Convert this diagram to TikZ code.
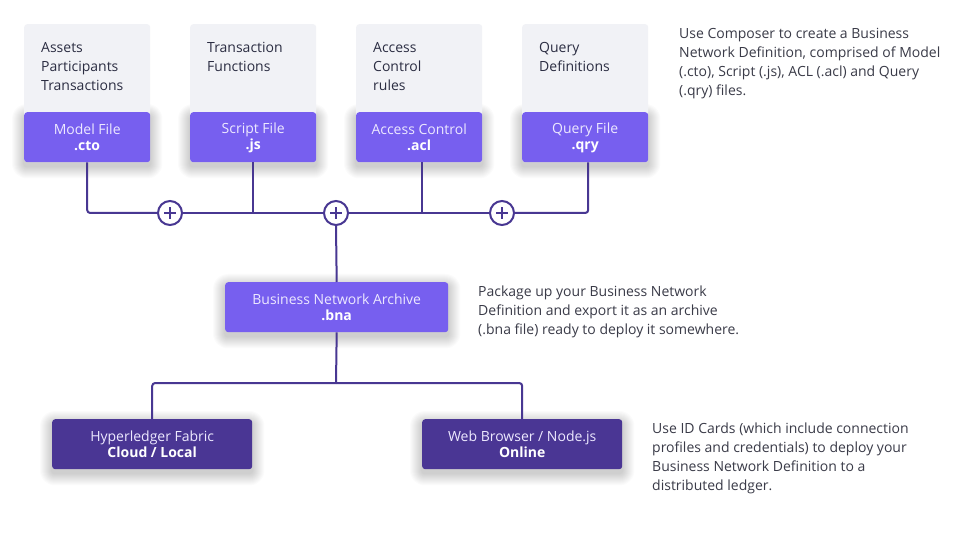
\documentclass[tikz,border=0pt]{standalone}
\usepackage{fontspec}
\setmainfont{Open Sans}
\usetikzlibrary{backgrounds}
\definecolor{lightpurple}{HTML}{775FEF}
\definecolor{darkpurple}{HTML}{4A3694}
\definecolor{linecol}{HTML}{483792}
\definecolor{greybox}{HTML}{F1F2F6}
\definecolor{greytext}{HTML}{2B2D42}
\definecolor{desctext}{HTML}{3A3B48}
\definecolor{lavender}{HTML}{EDE9FF}
\tikzset{
  x=1pt, y=-1pt,
  greycard/.style={fill=greybox, rounded corners=3pt, minimum width=126pt, minimum height=138pt, anchor=north west, inner sep=0pt},
  greylabel/.style={anchor=north west, align=left, inner sep=0pt, text=greytext, font=\fontsize{14}{19}\selectfont},
  filebox/.style={fill=lightpurple, rounded corners=3pt, minimum width=126pt, minimum height=50pt, anchor=north west, inner sep=0pt, align=center, text=lavender, font=\fontsize{14}{16}\selectfont},
  bnabox/.style={filebox, minimum width=223pt},
  envbox/.style={filebox, fill=darkpurple, minimum width=200pt},
  desc/.style={anchor=north west, align=left, inner sep=0pt, text=desctext, font=\fontsize{14}{19}\selectfont},
  conn/.style={draw=linecol, line width=2pt, rounded corners=3pt},
  plus/.style={circle, draw=linecol, line width=2pt, fill=white, minimum size=24pt, inner sep=0pt},
}
\newcommand{\plussign}[1]{\draw[linecol, line width=1.6pt] ([xshift=-6pt]#1.center) -- ([xshift=6pt]#1.center) ([yshift=-6pt]#1.center) -- ([yshift=6pt]#1.center);}
\newcommand{\softshadow}[1]{%
  \begin{pgfonlayer}{background}
  \foreach \r [evaluate=\r as \rc using \r+3] in {1,...,12} {
    \fill[black, opacity=0.014, rounded corners=\rc pt]
      ([shift={(-\r pt,\r pt-4pt)}]#1.north west) rectangle ([shift={(\r pt,-\r pt-4pt)}]#1.south east);
  }
  \end{pgfonlayer}}
\newcommand{\mystrut}{\rule[-2pt]{0pt}{14pt}}
\newcommand{\twoline}[2]{\mystrut#1\\\mystrut\textbf{\color{white}#2}}
\begin{document}
\begin{tikzpicture}
\useasboundingbox (0,0) rectangle (970,540);
\begin{pgfonlayer}{background}
\fill[white] (0,0) rectangle (970,540);
\end{pgfonlayer}

% grey cards
\node[greycard] (g1) at (24,24) {};
\node[greycard] (g2) at (190,24) {};
\node[greycard] (g3) at (356,24) {};
\node[greycard] (g4) at (522,24) {};
\node[greylabel] (t1) at (41,42) {Assets\\Participants\\Transactions};
\node[greylabel] (t2) at (207,42) {Transaction\\Functions};
\node[greylabel] (t3) at (373,42) {Access\\Control\\rules};
\node[greylabel] (t4) at (539,42) {Query\\Definitions};

% file boxes
\node[filebox] (f1) at (24,112) {\twoline{Model File}{.cto}};
\node[filebox] (f2) at (190,112) {\twoline{Script File}{.js}};
\node[filebox] (f3) at (356,112) {\twoline{Access Control}{.acl}};
\node[filebox] (f4) at (522,112) {\twoline{Query File}{.qry}};

% plus circles
\node[plus] (p1) at (170,213) {};
\node[plus] (p2) at (336,213) {};
\node[plus] (p3) at (502,213) {};

% BNA
\node[bnabox] (bna) at (225,282) {\twoline{Business Network Archive}{.bna}};

% environments
\node[envbox] (hf) at (52,419) {\twoline{Hyperledger Fabric}{Cloud / Local}};
\node[envbox] (wb) at (422,419) {\twoline{Web Browser / Node.js}{Online}};

\softshadow{f1}
\softshadow{f2}
\softshadow{f3}
\softshadow{f4}
\softshadow{bna}
\softshadow{hf}
\softshadow{wb}

\coordinate (j) at (336,383);
\coordinate (c3) at ([xshift=3pt]f3.south);
\coordinate (c4) at ([xshift=3pt]f4.south);

% connectors
\draw[conn] (f1.south) |- (p1.west);
\draw[conn] (p1.east) -- (p2.west);
\draw[conn] (p2.east) -- (p3.west);
\draw[conn] (c4) |- (p3.east);
\draw[conn] (f2.south) -- (f2.south |- p1.center);
\draw[conn] (c3) -- (c3 |- p2.center);
\draw[conn] (p2.south) -- (bna.north);
\draw[conn] (bna.south) -- (j);
\draw[conn] (j) -| (hf.north);
\draw[conn] (j) -| (wb.north);
\plussign{p1}
\plussign{p2}
\plussign{p3}

% descriptions
\node[desc] (d1) at (679,28) {Use Composer to create a Business\\Network Definition, comprised of Model\\(.cto), Script (.js), ACL (.acl) and Query\\(.qry) files.};
\node[desc] (d2) at (478,286) {Package up your Business Network\\Definition and export it as an archive\\(.bna file) ready to deploy it somewhere.};
\node[desc] (d3) at (652,423) {Use ID Cards (which include connection\\profiles and credentials) to deploy your\\Business Network Definition to a\\distributed ledger.};
\end{tikzpicture}
\end{document}
